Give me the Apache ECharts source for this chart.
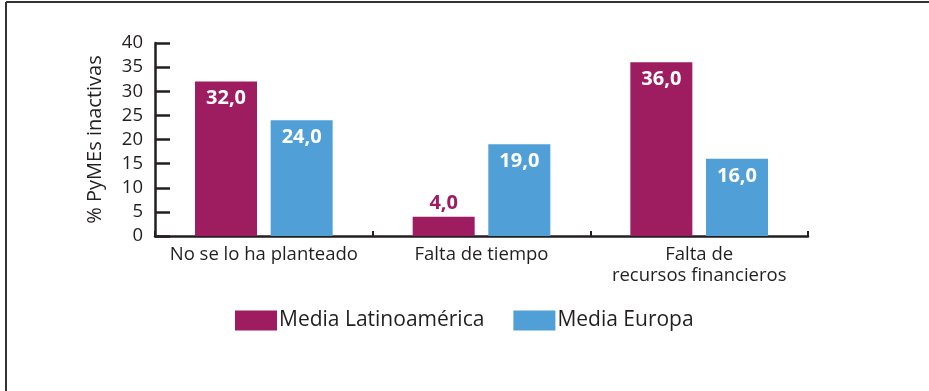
<!DOCTYPE html>
<html>
<head>
<meta charset="utf-8">
<script src="https://cdn.jsdelivr.net/npm/echarts@6/dist/echarts.min.js"></script>
<style>
  html, body { margin: 0; padding: 0; background: #fff; }
  #chart { width: 929px; height: 391px; }
</style>
</head>
<body>
<div id="chart"></div>
<script>
const categories = ['No se lo ha planteado', 'Falta de tiempo', 'Falta de\nrecursos financieros'];
const latamValues = [32.0, 4.0, 36.0];
const europeValues = [24.0, 19.0, 16.0];
const seriesNames = ['Media Latinoamérica', 'Media Europa'];

const LATAM = '#9e1d60';
const EUROPE = '#519fd7';
const INK = '#231f20';
const FONT = '"Open Sans", Lato, sans-serif';

function fmt(v) { return v.toFixed(1).replace('.', ','); }

// Short bars get their value above the bar, in the bar colour
function latamData() {
  return latamValues.map(v => {
    if (v < 8) {
      return { value: v, label: { position: 'top', color: LATAM, distance: 3 } };
    }
    return v;
  });
}

const chart = echarts.init(document.getElementById('chart'));
chart.setOption({
  animation: false,
  textStyle: { fontFamily: FONT },
  graphic: [
    { type: 'line', shape: { x1: 6, y1: 2, x2: 929, y2: 2 }, style: { stroke: '#333', lineWidth: 2 } },
    { type: 'line', shape: { x1: 6, y1: 2, x2: 6, y2: 391 }, style: { stroke: '#333', lineWidth: 2 } }
  ],
  grid: { left: 155, right: 121, top: 43, bottom: 155 },
  legend: {
    data: seriesNames,
    top: 305,
    left: 230,
    itemWidth: 42,
    itemHeight: 20,
    itemGap: 29,
    icon: 'rect',
    textStyle: { fontFamily: FONT, fontSize: 21, color: INK, padding: [0, 0, 0, -3] }
  },
  xAxis: {
    type: 'category',
    data: categories,
    axisLine: { lineStyle: { color: INK, width: 2.5 } },
    axisTick: { show: true, inside: true, length: 5, lineStyle: { color: INK, width: 2 } },
    axisLabel: { interval: 0, color: INK, fontSize: 18.5, fontFamily: FONT, margin: 8, lineHeight: 21 }
  },
  yAxis: {
    type: 'value',
    min: 0,
    max: 40,
    interval: 5,
    name: '% PyMEs inactivas',
    nameLocation: 'middle',
    nameGap: 50,
    nameRotate: 90,
    nameTextStyle: { color: INK, fontSize: 20, fontFamily: FONT },
    axisLine: { show: true, lineStyle: { color: INK, width: 2.5 } },
    axisTick: { show: true, inside: true, length: 15, lineStyle: { color: INK, width: 2.5 } },
    axisLabel: { color: INK, fontSize: 18.5, fontFamily: FONT, margin: 12 },
    splitLine: { show: false }
  },
  series: [
    {
      name: seriesNames[0],
      type: 'bar',
      data: latamData(),
      barWidth: 62,
      barGap: '22%',
      itemStyle: { color: LATAM },
      label: {
        show: true,
        position: 'insideTop',
        distance: 7,
        color: '#fff',
        fontWeight: 'bold',
        fontSize: 20,
        fontFamily: FONT,
        formatter: p => fmt(p.value)
      }
    },
    {
      name: seriesNames[1],
      type: 'bar',
      data: europeValues,
      barWidth: 62,
      itemStyle: { color: EUROPE },
      label: {
        show: true,
        position: 'insideTop',
        distance: 7,
        color: '#fff',
        fontWeight: 'bold',
        fontSize: 20,
        fontFamily: FONT,
        formatter: p => fmt(p.value)
      }
    }
  ]
});
</script>
</body>
</html>
